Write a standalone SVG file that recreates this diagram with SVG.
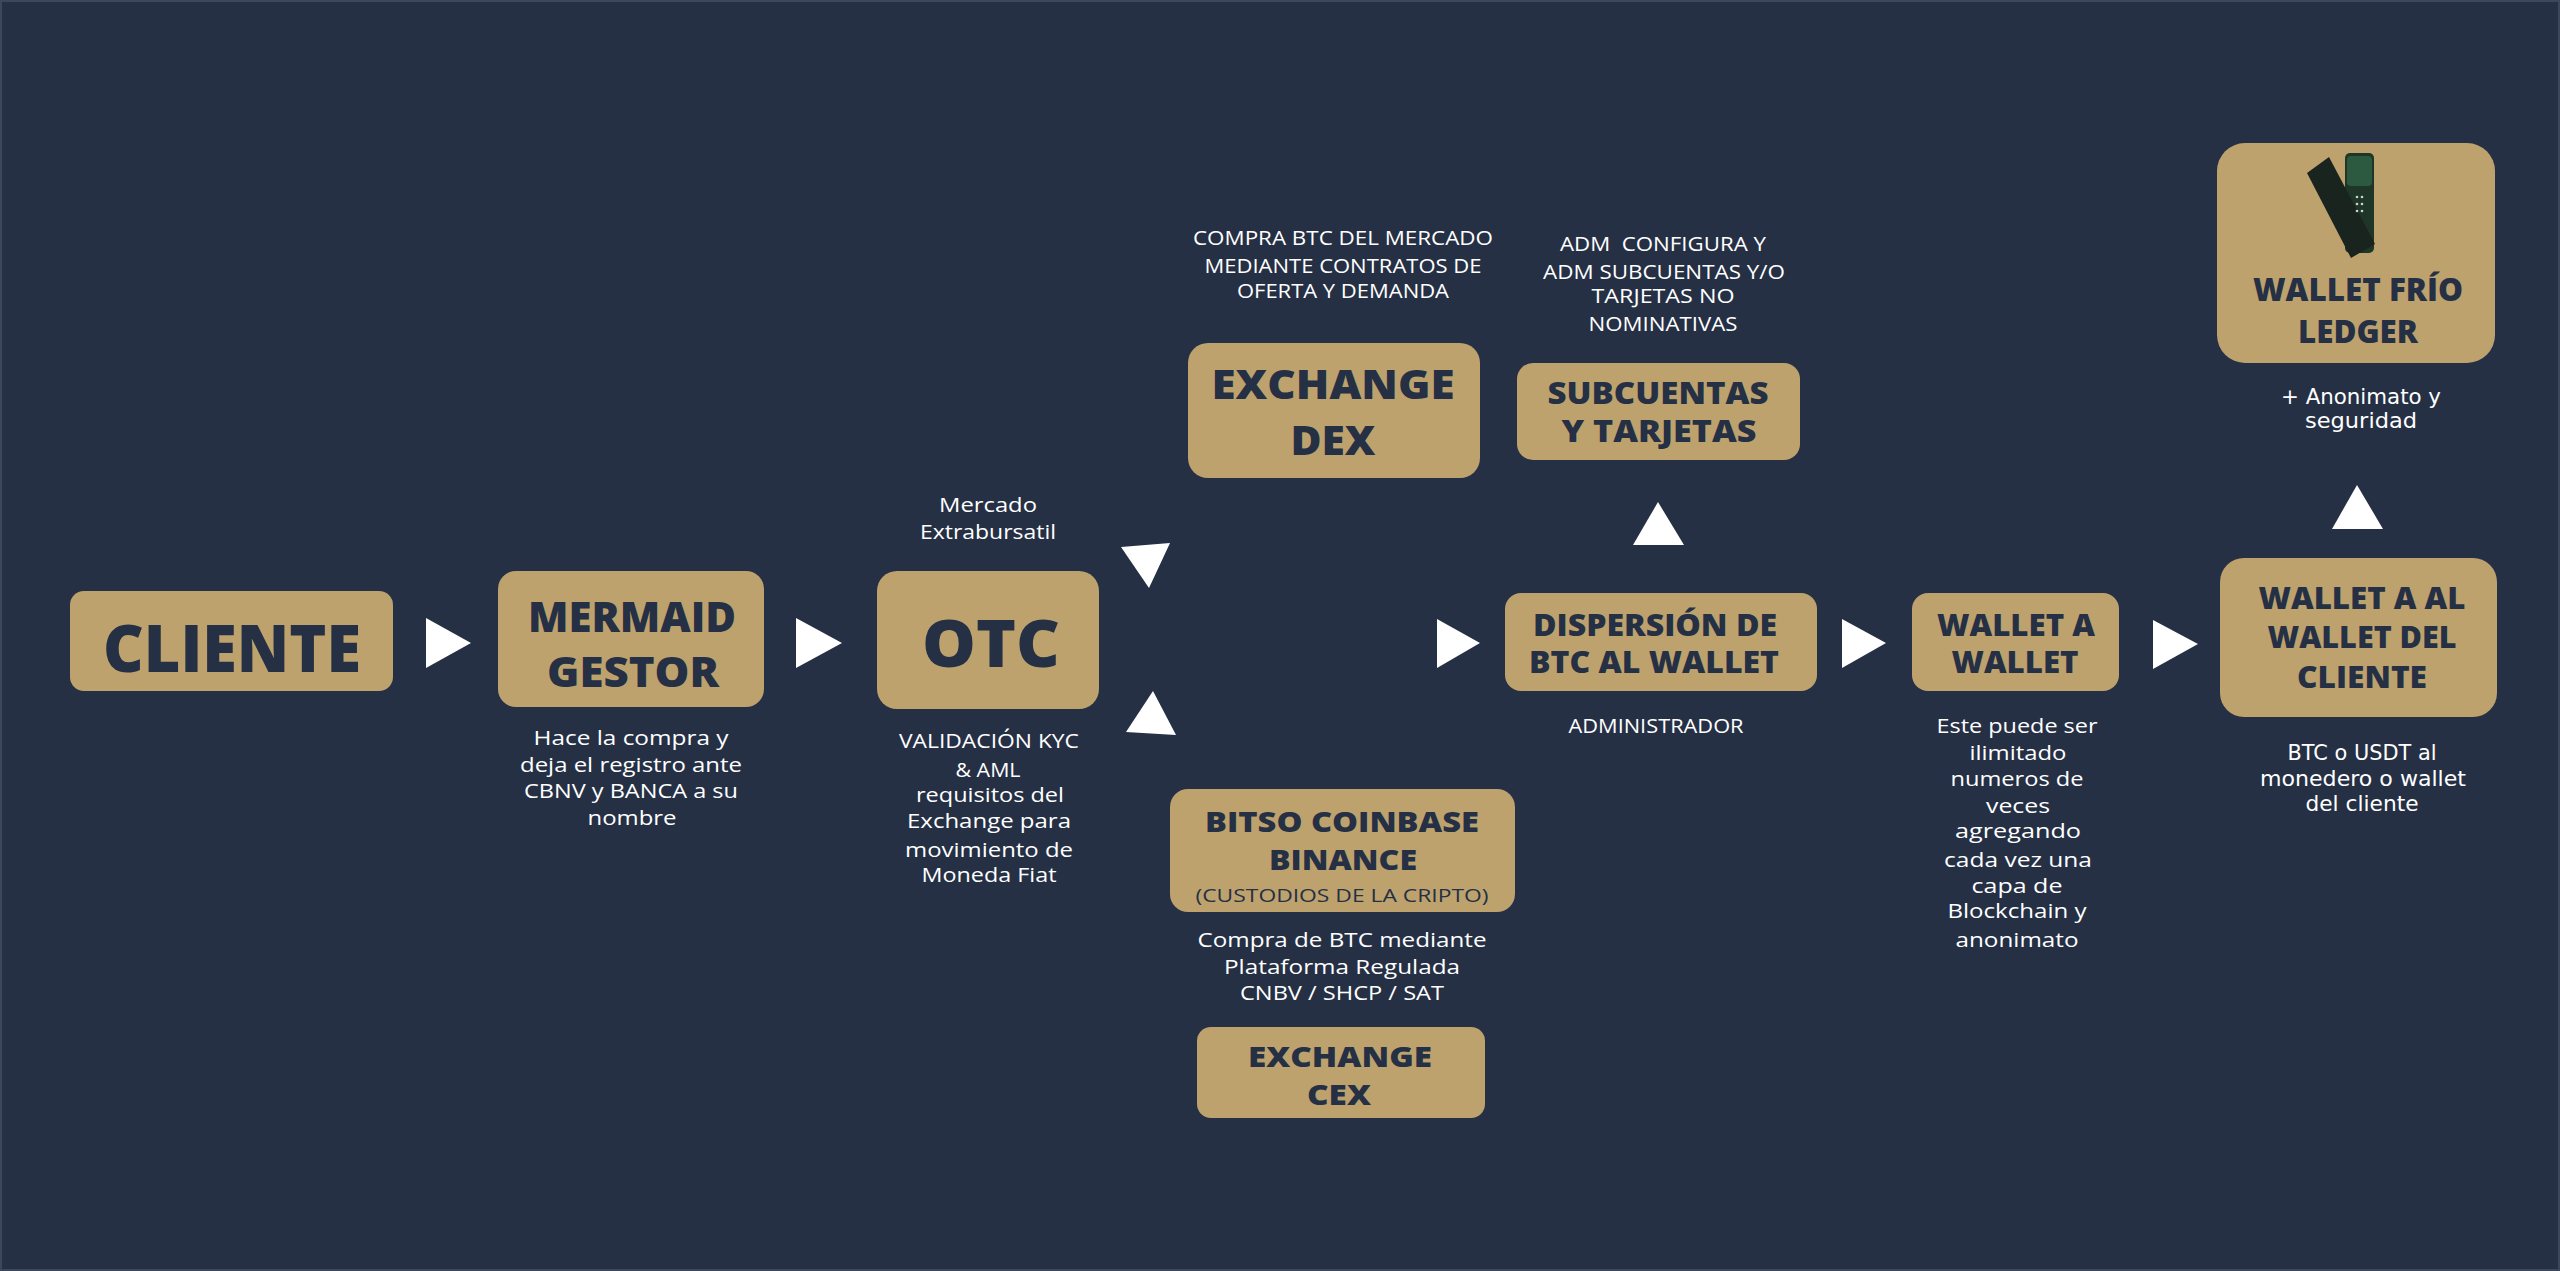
<svg xmlns="http://www.w3.org/2000/svg" width="2560" height="1271" viewBox="0 0 2560 1271">
<style>
.bg{fill:#253045}
.box{fill:#BDA26E}
.t{font-family:"Open Sans","Liberation Sans",sans-serif;font-weight:800;fill:#253045;text-anchor:middle}
.n{font-family:"Open Sans","Liberation Sans",sans-serif;font-weight:400;fill:#FFFFFF;text-anchor:middle;font-size:20px}
.nd{font-family:"Open Sans","Liberation Sans",sans-serif;font-weight:400;fill:#253045;text-anchor:middle}
.m{font-family:"DejaVu Sans","Open Sans",sans-serif;font-weight:400;fill:#FFFFFF;text-anchor:middle;font-size:21px}
.pre{white-space:pre}
.arr{fill:#FFFFFF}
</style>
<rect class="bg" x="0" y="0" width="2560" height="1271"/>
<rect x="1" y="1" width="2558" height="1269" fill="none" stroke="#3B475B" stroke-width="2"/>

<g id="connectors">
<polygon class="arr" points="426,618 471,643 426,668"/>
<polygon class="arr" points="796,618 842,643 796,668"/>
<polygon class="arr" points="1121,547 1170,543 1149,588"/>
<polygon class="arr" points="1153,691 1126,732 1176,735"/>
<polygon class="arr" points="1437,619 1480,643 1437,668"/>
<polygon class="arr" points="1842,619 1886,643 1842,668"/>
<polygon class="arr" points="2153,620 2198,644 2153,669"/>
<polygon class="arr" points="1658,502 1633,545 1684,545"/>
<polygon class="arr" points="2357,485 2332,529 2383,529"/>
</g>

<g id="node-cliente">
<rect class="box" x="70" y="591" width="323" height="100" rx="14"/>
<text class="t" x="232" y="672" font-size="66" textLength="258" lengthAdjust="spacingAndGlyphs">CLIENTE</text>
</g>

<g id="node-mermaid">
<rect class="box" x="498" y="571" width="266" height="136" rx="18"/>
<text class="t" x="632" y="632" font-size="42" textLength="208" lengthAdjust="spacingAndGlyphs">MERMAID</text>
<text class="t" x="633" y="687" font-size="42" textLength="172" lengthAdjust="spacingAndGlyphs">GESTOR</text>
<text class="n" x="631" y="745" textLength="195" lengthAdjust="spacingAndGlyphs">Hace la compra y</text>
<text class="n" x="631" y="772" textLength="222" lengthAdjust="spacingAndGlyphs">deja el registro ante</text>
<text class="n" x="631" y="798" textLength="214" lengthAdjust="spacingAndGlyphs">CBNV y BANCA a su</text>
<text class="n" x="632" y="825" textLength="89" lengthAdjust="spacingAndGlyphs">nombre</text>
</g>

<g id="node-otc">
<rect class="box" x="877" y="571" width="222" height="138" rx="20"/>
<text class="t" x="991" y="667" font-size="66" textLength="138" lengthAdjust="spacingAndGlyphs">OTC</text>
<text class="n" x="988" y="512" textLength="98" lengthAdjust="spacingAndGlyphs">Mercado</text>
<text class="n" x="988" y="539" textLength="136" lengthAdjust="spacingAndGlyphs">Extrabursatil</text>
<text class="n" x="989" y="748" textLength="180" lengthAdjust="spacingAndGlyphs">VALIDACIÓN KYC</text>
<text class="n" x="988" y="777" textLength="65" lengthAdjust="spacingAndGlyphs">&amp; AML</text>
<text class="n" x="990" y="802" textLength="148" lengthAdjust="spacingAndGlyphs">requisitos del</text>
<text class="n" x="989" y="828" textLength="164" lengthAdjust="spacingAndGlyphs">Exchange para</text>
<text class="n" x="989" y="857" textLength="168" lengthAdjust="spacingAndGlyphs">movimiento de</text>
<text class="n" x="989" y="882" textLength="135" lengthAdjust="spacingAndGlyphs">Moneda Fiat</text>
</g>

<g id="node-dex">
<rect class="box" x="1188" y="343" width="292" height="135" rx="20"/>
<text class="t" x="1333" y="399" font-size="41" textLength="243" lengthAdjust="spacingAndGlyphs">EXCHANGE</text>
<text class="t" x="1333" y="455" font-size="41" textLength="85" lengthAdjust="spacingAndGlyphs">DEX</text>
<text class="n" x="1343" y="245" font-size="19" textLength="300" lengthAdjust="spacingAndGlyphs">COMPRA BTC DEL MERCADO</text>
<text class="n" x="1343" y="273" font-size="19" textLength="277" lengthAdjust="spacingAndGlyphs">MEDIANTE CONTRATOS DE</text>
<text class="n" x="1343" y="298" font-size="19" textLength="212" lengthAdjust="spacingAndGlyphs">OFERTA Y DEMANDA</text>
</g>

<g id="node-subcuentas">
<rect class="box" x="1517" y="363" width="283" height="97" rx="16"/>
<text class="t" x="1658" y="404" font-size="30" textLength="221" lengthAdjust="spacingAndGlyphs">SUBCUENTAS</text>
<text class="t" x="1659" y="442" font-size="30" textLength="195" lengthAdjust="spacingAndGlyphs">Y TARJETAS</text>
<text class="n pre" x="1663" y="251" font-size="19" textLength="206" lengthAdjust="spacingAndGlyphs" xml:space="preserve">ADM  CONFIGURA Y</text>
<text class="n" x="1664" y="279" font-size="19" textLength="242" lengthAdjust="spacingAndGlyphs">ADM SUBCUENTAS Y/O</text>
<text class="n" x="1663" y="303" font-size="19" textLength="143" lengthAdjust="spacingAndGlyphs">TARJETAS NO</text>
<text class="n" x="1663" y="331" font-size="19" textLength="149" lengthAdjust="spacingAndGlyphs">NOMINATIVAS</text>
</g>

<g id="node-dispersion">
<rect class="box" x="1505" y="593" width="312" height="98" rx="16"/>
<text class="t" x="1655" y="636" font-size="30" textLength="244" lengthAdjust="spacingAndGlyphs">DISPERSIÓN DE</text>
<text class="t" x="1654" y="673" font-size="30" textLength="250" lengthAdjust="spacingAndGlyphs">BTC AL WALLET</text>
<text class="n" x="1656" y="733" font-size="19" textLength="175" lengthAdjust="spacingAndGlyphs">ADMINISTRADOR</text>
</g>

<g id="node-wallet-a-wallet">
<rect class="box" x="1912" y="593" width="207" height="98" rx="16"/>
<text class="t" x="2016" y="636" font-size="30" textLength="158" lengthAdjust="spacingAndGlyphs">WALLET A</text>
<text class="t" x="2015" y="673" font-size="30" textLength="127" lengthAdjust="spacingAndGlyphs">WALLET</text>
<text class="n" x="2017" y="733" textLength="161" lengthAdjust="spacingAndGlyphs">Este puede ser</text>
<text class="n" x="2018" y="760" textLength="97" lengthAdjust="spacingAndGlyphs">ilimitado</text>
<text class="n" x="2017" y="786" textLength="133" lengthAdjust="spacingAndGlyphs">numeros de</text>
<text class="n" x="2018" y="813" textLength="64" lengthAdjust="spacingAndGlyphs">veces</text>
<text class="n" x="2018" y="838" textLength="126" lengthAdjust="spacingAndGlyphs">agregando</text>
<text class="n" x="2018" y="867" textLength="148" lengthAdjust="spacingAndGlyphs">cada vez una</text>
<text class="n" x="2017" y="893" textLength="91" lengthAdjust="spacingAndGlyphs">capa de</text>
<text class="n" x="2017" y="918" textLength="139" lengthAdjust="spacingAndGlyphs">Blockchain y</text>
<text class="n" x="2017" y="947" textLength="123" lengthAdjust="spacingAndGlyphs">anonimato</text>
</g>

<g id="node-bitso">
<rect class="box" x="1170" y="789" width="345" height="123" rx="18"/>
<text class="t" x="1342" y="832" font-size="29" textLength="274" lengthAdjust="spacingAndGlyphs">BITSO COINBASE</text>
<text class="t" x="1343" y="870" font-size="29" textLength="148" lengthAdjust="spacingAndGlyphs">BINANCE</text>
<text class="nd" x="1342" y="902" font-size="19" textLength="293" lengthAdjust="spacingAndGlyphs">(CUSTODIOS DE LA CRIPTO)</text>
<text class="n" x="1342" y="947" textLength="289" lengthAdjust="spacingAndGlyphs">Compra de BTC mediante</text>
<text class="n" x="1342" y="974" textLength="236" lengthAdjust="spacingAndGlyphs">Plataforma Regulada</text>
<text class="n" x="1342" y="1000" textLength="204" lengthAdjust="spacingAndGlyphs">CNBV / SHCP / SAT</text>
</g>

<g id="node-cex">
<rect class="box" x="1197" y="1027" width="288" height="91" rx="14"/>
<text class="t" x="1340" y="1067" font-size="29" textLength="184" lengthAdjust="spacingAndGlyphs">EXCHANGE</text>
<text class="t" x="1339" y="1105" font-size="29" textLength="64" lengthAdjust="spacingAndGlyphs">CEX</text>
</g>

<g id="node-wallet-frio">
<rect class="box" x="2217" y="143" width="278" height="220" rx="28"/>
<g id="ledger-device">
<rect x="2345" y="153" width="29" height="100" rx="5" fill="#1E3527"/>
<rect x="2347" y="156" width="25" height="30" rx="4" fill="#2C5A40"/>
<circle cx="2360" cy="240" r="7" fill="#17291E"/>
<polygon points="2307,173 2329,157 2375,244 2351,258" fill="#1A241E"/>
<g fill="#C9D3C9">
<circle cx="2357" cy="197" r="1.3"/><circle cx="2362" cy="197" r="1.3"/>
<circle cx="2357" cy="204" r="1.3"/><circle cx="2362" cy="204" r="1.3"/>
<circle cx="2357" cy="211" r="1.3"/><circle cx="2362" cy="211" r="1.3"/>
</g>
</g>
<text class="t" x="2358" y="301" font-size="32" textLength="210" lengthAdjust="spacingAndGlyphs">WALLET FRÍO</text>
<text class="t" x="2358" y="343" font-size="32" textLength="120" lengthAdjust="spacingAndGlyphs">LEDGER</text>
<text class="m" x="2361" y="404" textLength="160" lengthAdjust="spacingAndGlyphs">+ Anonimato y</text>
<text class="m" x="2361" y="428" textLength="112" lengthAdjust="spacingAndGlyphs">seguridad</text>
</g>

<g id="node-wallet-cliente">
<rect class="box" x="2220" y="558" width="277" height="159" rx="24"/>
<text class="t" x="2362" y="609" font-size="30" textLength="207" lengthAdjust="spacingAndGlyphs">WALLET A AL</text>
<text class="t" x="2362" y="648" font-size="30" textLength="189" lengthAdjust="spacingAndGlyphs">WALLET DEL</text>
<text class="t" x="2362" y="688" font-size="30" textLength="130" lengthAdjust="spacingAndGlyphs">CLIENTE</text>
<text class="m" x="2362" y="760" font-size="20" textLength="149" lengthAdjust="spacingAndGlyphs">BTC o USDT al</text>
<text class="m" x="2363" y="786" font-size="20" textLength="206" lengthAdjust="spacingAndGlyphs">monedero o wallet</text>
<text class="m" x="2362" y="811" font-size="20" textLength="113" lengthAdjust="spacingAndGlyphs">del cliente</text>
</g>
</svg>
